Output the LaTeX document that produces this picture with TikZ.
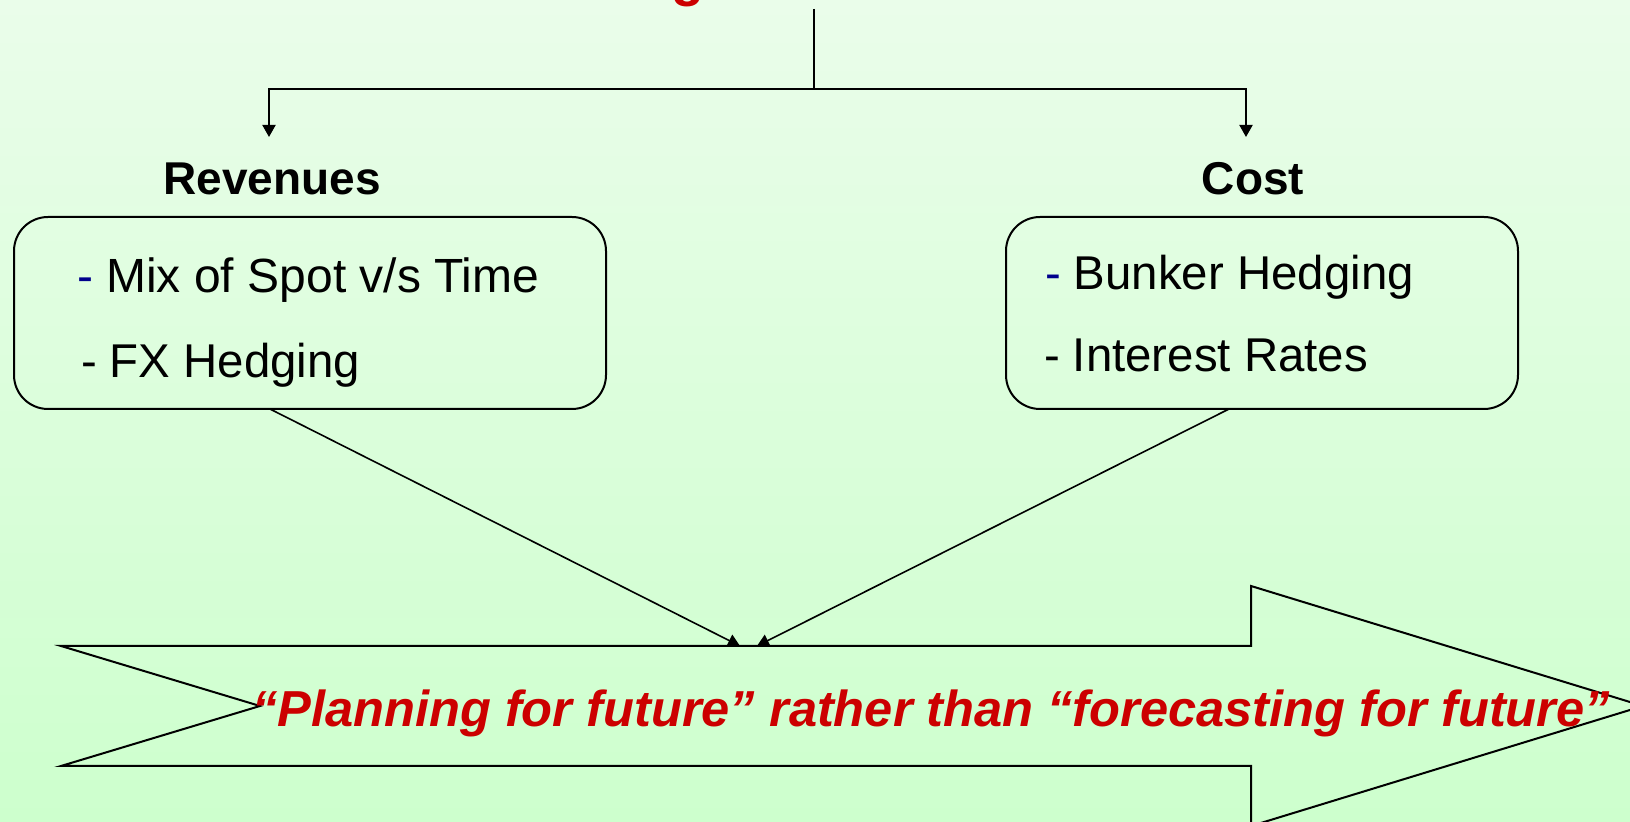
\documentclass[tikz,border=0pt]{standalone}
\usepackage{fontspec}
\setmainfont{Liberation Sans}
\usetikzlibrary{arrows.meta}
\usetikzlibrary{positioning}
\definecolor{bgtop}{RGB}{234,253,234}
\definecolor{bgbot}{RGB}{205,255,205}
\definecolor{slogan}{RGB}{204,0,0}
\definecolor{dashblue}{RGB}{0,0,140}

\begin{document}
\begin{tikzpicture}[x=0.5pt,y=-0.5pt,line width=1pt,
    head/.style={font=\fontsize{23}{28}\selectfont\bfseries, inner sep=0pt, anchor=base},
    item/.style={font=\fontsize{23.7}{28}\selectfont, inner sep=0pt, anchor=base west},
    riskbox/.style={draw, rounded corners=17pt, minimum height=96pt, inner sep=0pt},
    tip/.style={-{Triangle[width=6.5pt,length=6pt]}}
    ]
\edef\shaft{646}
\edef\shaftb{766}
\edef\mid{706}

\useasboundingbox (0,0) rectangle (1630,822);
\shade[top color=bgtop, bottom color=bgbot] (0,0) rectangle (1630,822);

% title, cut off by the page
\node[head, font=\fontsize{27}{30}\selectfont\bfseries, text=slogan] (ttl) at (688,-4) {g};

\coordinate (stem) at (814,9);
\coordinate (fork) at (814,89);
\coordinate (revin) at (269,137);
\coordinate (costin) at (1246,137);
\draw[line width=0.8pt] (stem) -- (fork);
\draw[tip] (fork) -| (revin);
\draw[tip] (fork) -| (costin);

\node[head] (revlbl) at (272,195) {Revenues};
\node[head] (costlbl) at (1253,195) {Cost};

\node[riskbox, minimum width=296pt] (rev) at (310,313) {};
\node[riskbox, minimum width=256pt] (cost) at (1262,313) {};

\node[item, font=\fontsize{24}{30}\selectfont] (mix) at (76,293) {\textcolor{dashblue}{-} Mix of Spot v/s Time};
\node[item] (fx) at (80,378) {- FX Hedging};
\node[item] (bunker) at (1044,290) {\textcolor{dashblue}{-} Bunker Hedging};
\node[item] (rates) at (1043,372) {- Interest Rates};

% big arrow
\draw (61,\shaft) -- (1251,\shaft) -- (1251,586) -- (1643,\mid) -- (1251,826)
  -- (1251,\shaftb) -- (61,\shaftb) -- (260,\mid) -- cycle;
%\draw (1251,\shaft) -- (1251,\shaftb);

\node[anchor=base, inner sep=0pt, text=slogan,
  font=\fontsize{25.3}{30}\selectfont\bfseries\itshape] (plan) at (931,727)
  {“Planning for future” rather than “forecasting for future”};

\coordinate (revout) at (270,409);
\coordinate (costout) at (1229,409);
\coordinate (hitL) at (740,\shaft);
\coordinate (hitR) at (757,\shaft);
\draw[tip, line width=0.8pt] (revout) -- (hitL);
\draw[tip, line width=0.8pt] (costout) -- (hitR);
\end{tikzpicture}
\end{document}
